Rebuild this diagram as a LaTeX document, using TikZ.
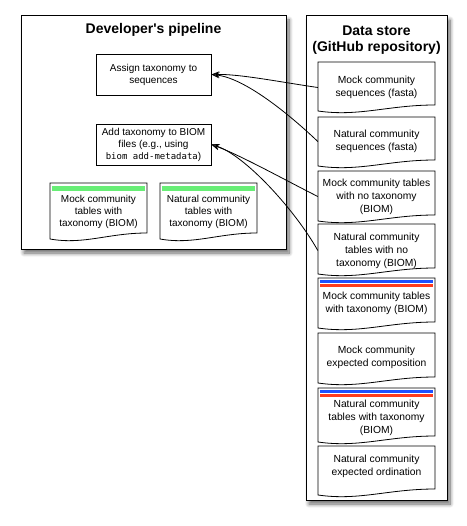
\documentclass[tikz,border=0pt]{standalone}
\usepackage{fontspec}
\setmainfont{Liberation Sans}
\newfontfamily\hv{Liberation Sans}
\newfontfamily\mono{DejaVu Sans Mono}
\usetikzlibrary{arrows.meta,shadows.blur,calc}
\definecolor{barGreen}{RGB}{104,238,118}
\definecolor{barBlue}{RGB}{30,80,255}
\definecolor{barRed}{RGB}{255,60,30}
\tikzset{
 container/.style={draw=black, line width=1pt, fill=white,
   blur shadow={shadow xshift=3pt, shadow yshift=-4pt, shadow blur radius=4pt, shadow blur steps=10, shadow opacity=60}},
 titletext/.style={font=\hv\fontsize{14}{16}\selectfont\bfseries, align=center, inner sep=0pt},
 procbox/.style={draw, line width=0.8pt, align=center, font=\hv\fontsize{10}{12}\selectfont,
   minimum width=115pt, minimum height=41pt, inner sep=0pt},
 doclabel/.style={align=center, inner sep=0pt, font=\hv\fontsize{10.3}{13}\selectfont},
 doclabelL/.style={align=center, inner sep=0pt, font=\hv\fontsize{10}{12}\selectfont},
 docline/.style={draw, line width=0.8pt, fill=white},
 greenbar/.style={line width=4.5pt, barGreen},
 bluebar/.style={line width=2.5pt, barBlue},
 redbar/.style={line width=2.5pt, barRed},
 link/.style={line width=0.8pt, -{Stealth[length=8pt,width=6pt]}},
}
% x1, top, x2, right-bottom
\newcommand\docshape[4]{%
 \draw[docline] (#1,#2) -- (#3,#2) -- (#3,#4)
   .. controls ({#3-0.4*(#3-#1)},{#4}) and ({#1+0.35*(#3-#1)},{#4+12}) .. (#1,{#4+6}) -- cycle;}
\begin{document}
\begin{tikzpicture}[x=1pt,y=-1pt]
\useasboundingbox (0,0) rectangle (466,526);
% containers
\draw[container] (21,16) rectangle (286,249);
\draw[container] (306,16) rectangle (447,500);
\node[titletext] (devtitle) at (153.5,30) {Developer's pipeline};
\node[titletext] (storetitle) at (376.5,40) {Data store\\(GitHub repository)};
% developer's pipeline
\node[procbox] (assign) at (153.5,74.5) {Assign taxonomy to\\sequences};
\node[procbox] (addtax) at (153.5,144.5) {Add taxonomy to BIOM\\files (e.g., using\\{\mono\fontsize{9}{12}\selectfont biom add-metadata})};
\docshape{50}{183}{147}{233}
\draw[greenbar] (52,188.5) -- (145,188.5);
\node[doclabelL, minimum width=97pt] (mockleft) at (98.5,212) {Mock community\\tables with\\taxonomy (BIOM)};
\docshape{160}{183}{257}{233}
\draw[greenbar] (162,188.5) -- (255,188.5);
\node[doclabelL, minimum width=97pt] (natleft) at (208.5,212) {Natural community\\tables with\\taxonomy (BIOM)};
% data store
\docshape{318}{62}{435}{105}
\node[doclabel, minimum width=117pt] (r1) at (376.5,87.5) {Mock community\\sequences (fasta)};
\docshape{318}{117}{435}{160}
\node[doclabel, minimum width=117pt] (r2) at (376.5,141.5) {Natural community\\sequences (fasta)};
\docshape{318}{171}{435}{215}
\node[doclabel, minimum width=117pt] (r3) at (376.5,196.5) {Mock community tables\\with no taxonomy\\(BIOM)};
\docshape{318}{224}{435}{268}
\node[doclabel, minimum width=117pt] (r4) at (376.5,250.5) {Natural community\\tables with no\\taxonomy (BIOM)};
\docshape{318}{278}{435}{322}
\draw[bluebar] (320,281.5) -- (433,281.5);
\draw[redbar] (320,285.5) -- (433,285.5);
\node[doclabel, minimum width=117pt] (r5) at (376.5,303.5) {Mock community tables\\with taxonomy (BIOM)};
\docshape{318}{333}{435}{377}
\node[doclabel, minimum width=117pt] (r6) at (376.5,357.5) {Mock community\\expected composition};
\docshape{318}{388}{435}{436}
\draw[bluebar] (320,391.5) -- (433,391.5);
\draw[redbar] (320,395.5) -- (433,395.5);
\node[doclabel, minimum width=117pt] (r7) at (376.5,417.5) {Natural community\\tables with taxonomy\\(BIOM)};
\docshape{318}{446}{435}{489}
\node[doclabel, minimum width=117pt] (r8) at (376.5,466) {Natural community\\expected ordination};
% connectors
\draw[link] (r1.west) .. controls (280,82) and (240,74) .. (assign.east);
\draw[link] (r2.west) .. controls (290,115) and (245,78) .. (assign.east);
\draw[link] (r3.west) .. controls (285,180) and (240,155) .. (addtax.east);
\draw[link] (r4.west) .. controls (295,210) and (245,155) .. (addtax.east);
\end{tikzpicture}
\end{document}
